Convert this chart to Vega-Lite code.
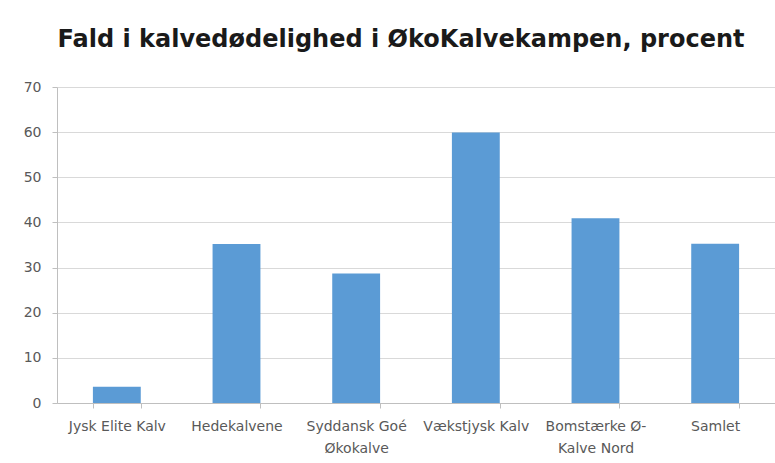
{
  "$schema": "https://vega.github.io/schema/vega-lite/v6.json",
  "width": 718,
  "height": 316,
  "autosize": "none",
  "padding": {"left": 57, "top": 87, "right": 0, "bottom": 60},
  "background": "white",
  "title": {
    "text": "Fald i kalvedødelighed i ØkoKalvekampen, procent",
    "font": "DejaVu Sans",
    "fontSize": 24,
    "fontWeight": "bold",
    "color": "#1a1a1a",
    "anchor": "middle",
    "frame": "group",
    "offset": 9,
    "baseline": "alphabetic",
    "dx": -15
  },
  "data": {
    "values": [
      {"gruppe": "Jysk Elite Kalv", "procent": 3.6},
      {"gruppe": "Hedekalvene", "procent": 35.2},
      {"gruppe": "Syddansk  Goé|Økokalve", "procent": 28.7},
      {"gruppe": "Vækstjysk Kalv", "procent": 59.9},
      {"gruppe": "Bomstærke Ø-|Kalve Nord", "procent": 40.9},
      {"gruppe": "Samlet", "procent": 35.3}
    ]
  },
  "mark": {"type": "bar", "color": "#5B9BD5"},
  "encoding": {
    "x": {
      "field": "gruppe",
      "type": "nominal",
      "sort": null,
      "scale": {"paddingInner": 0.6, "paddingOuter": 0.3},
      "axis": {
        "title": null,
        "labelExpr": "split(datum.label, '|')",
        "labelAngle": 0,
        "tickBand": "extent",
        "domainColor": "#bfbfbf",
        "tickColor": "#bfbfbf",
        "tickSize": 5,
        "labelFont": "DejaVu Sans",
        "labelFontSize": 14,
        "labelColor": "#595959",
        "labelPadding": 11,
        "labelLineHeight": 22,
        "grid": false
      }
    },
    "y": {
      "field": "procent",
      "type": "quantitative",
      "scale": {"domain": [0, 70]},
      "axis": {
        "title": null,
        "values": [0, 10, 20, 30, 40, 50, 60, 70],
        "grid": true,
        "gridColor": "#d9d9d9",
        "domainColor": "#bfbfbf",
        "tickColor": "#bfbfbf",
        "tickSize": 5,
        "labelPadding": 11,
        "labelFont": "DejaVu Sans",
        "labelFontSize": 14,
        "labelColor": "#595959"
      }
    }
  },
  "config": {"view": {"stroke": null}}
}
